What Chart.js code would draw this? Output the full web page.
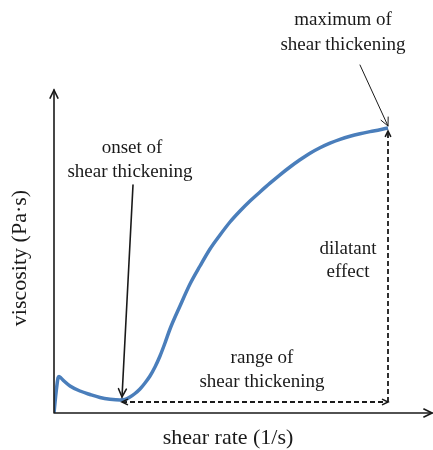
<!DOCTYPE html>
<html>
<head>
<meta charset="utf-8">
<script src="https://cdn.jsdelivr.net/npm/chart.js@4"></script>
<style>
  html, body { margin: 0; padding: 0; background: #fff; }
  #wrap { width: 433px; height: 450px; }
</style>
</head>
<body>
<div id="wrap"><canvas id="chart" width="433" height="450"></canvas></div>
<script>
// arbitrary units (x: shear rate, y: viscosity)
const shearRate = [0, 2, 4, 5, 7, 10, 16, 26, 36, 46, 56, 66, 71, 76, 81, 86, 91, 96, 101, 106, 111, 116,
    126, 136, 146, 156, 166, 176, 186, 196, 206, 216, 226, 236, 246, 256, 266, 276, 286, 296, 306, 316, 326, 334];
const viscosity = [0, 20, 35, 36.5, 35, 32, 27, 22, 18.5, 15.5, 13.8, 13, 13.5, 16, 19.5, 24, 30, 37, 46, 57, 70, 84,
    107, 129, 147, 164, 178, 191, 202, 212, 221, 229.8, 238.2, 246, 253.2, 259.8, 265.3, 269.9, 273.7, 276.8, 279.3, 281.4, 283.3, 285];

// dashed guides: range of shear thickening and dilatant effect
const rangeX = [68, 334];
const rangeY = [11, 11];
const dilatantX = [334, 334];
const dilatantY = [11, 282];

const xMax = 378;
const yMax = 323;

const serif = "'Liberation Serif', 'DejaVu Serif', serif";
const ink = '#1a1a1a';

function arrowHead(ctx, fromX, fromY, toX, toY, size) {
    const ang = Math.atan2(toY - fromY, toX - fromX);
    ctx.beginPath();
    ctx.moveTo(toX - size * Math.cos(ang - 0.45), toY - size * Math.sin(ang - 0.45));
    ctx.lineTo(toX, toY);
    ctx.lineTo(toX - size * Math.cos(ang + 0.45), toY - size * Math.sin(ang + 0.45));
    ctx.stroke();
}

const annotations = {
    id: 'annotations',
    afterDraw(chart) {
        const { ctx, chartArea } = chart;
        const x = chart.scales.x, y = chart.scales.y;
        const px = v => x.getPixelForValue(v);
        const py = v => y.getPixelForValue(v);

        ctx.save();
        ctx.setLineDash([]);
        ctx.lineCap = 'round';
        ctx.strokeStyle = ink;

        // axes with open arrowheads
        ctx.lineWidth = 1.6;
        ctx.beginPath();
        ctx.moveTo(chartArea.left, chartArea.bottom);
        ctx.lineTo(chartArea.left, chartArea.top);
        ctx.moveTo(chartArea.left, chartArea.bottom);
        ctx.lineTo(chartArea.right, chartArea.bottom);
        ctx.stroke();
        arrowHead(ctx, chartArea.left, chartArea.bottom, chartArea.left, chartArea.top, 9);
        arrowHead(ctx, chartArea.left, chartArea.bottom, chartArea.right, chartArea.bottom, 9);

        // arrowheads on the dashed guides
        ctx.lineWidth = 1.6;
        arrowHead(ctx, px(rangeX[1]), py(rangeY[1]), px(rangeX[0]), py(rangeY[0]), 6);
        arrowHead(ctx, px(rangeX[0]), py(rangeY[0]), px(rangeX[1]), py(rangeY[1]), 6);
        arrowHead(ctx, px(dilatantX[0]), py(dilatantY[0]), px(dilatantX[1]), py(dilatantY[1]), 6);

        // pointer arrows
        const pointers = [
            { from: [79, 228], to: [68, 16], w: 1.6 },
            { from: [306, 348], to: [334, 287], w: 1 }
        ];
        pointers.forEach(p => {
            ctx.lineWidth = p.w;
            ctx.beginPath();
            ctx.moveTo(px(p.from[0]), py(p.from[1]));
            ctx.lineTo(px(p.to[0]), py(p.to[1]));
            ctx.stroke();
            arrowHead(ctx, px(p.from[0]), py(p.from[1]), px(p.to[0]), py(p.to[1]), 9);
        });

        // labels
        ctx.fillStyle = ink;
        ctx.textAlign = 'center';
        ctx.textBaseline = 'middle';
        ctx.font = '19px ' + serif;
        const labels = [
            ['maximum of', 289, 393], ['shear thickening', 289, 368],
            ['onset of', 78, 265], ['shear thickening', 76, 241],
            ['dilatant', 294, 164], ['effect', 294, 141],
            ['range of', 208, 55], ['shear thickening', 208, 31]
        ];
        labels.forEach(([t, lx, ly]) => ctx.fillText(t, px(lx), py(ly)));

        // axis titles
        ctx.font = '22px ' + serif;
        ctx.fillText('shear rate (1/s)', px(174), py(-25));
        ctx.translate(px(-34), py(155));
        ctx.rotate(-Math.PI / 2);
        ctx.fillText('viscosity (Pa·s)', 0, 0);
        ctx.restore();
    }
};

new Chart(document.getElementById('chart'), {
    type: 'line',
    data: {
        datasets: [
            {
                data: shearRate.map((v, i) => ({ x: v, y: viscosity[i] })),
                borderColor: '#4a7ebb',
                borderWidth: 3.5,
                pointRadius: 0,
                cubicInterpolationMode: 'monotone',
                fill: false
            },
            {
                data: rangeX.map((v, i) => ({ x: v, y: rangeY[i] })),
                borderColor: ink,
                borderWidth: 1.8,
                borderDash: [5, 3],
                pointRadius: 0
            },
            {
                data: dilatantX.map((v, i) => ({ x: v, y: dilatantY[i] })),
                borderColor: ink,
                borderWidth: 1.8,
                borderDash: [5, 3],
                pointRadius: 0
            }
        ]
    },
    options: {
        responsive: false,
        animation: false,
        layout: { padding: { left: 54, top: 90, right: 1, bottom: 37 } },
        scales: {
            x: { type: 'linear', min: 0, max: xMax, display: false },
            y: { type: 'linear', min: 0, max: yMax, display: false }
        },
        plugins: {
            legend: { display: false },
            tooltip: { enabled: false }
        }
    },
    plugins: [annotations]
});
</script>
</body>
</html>
